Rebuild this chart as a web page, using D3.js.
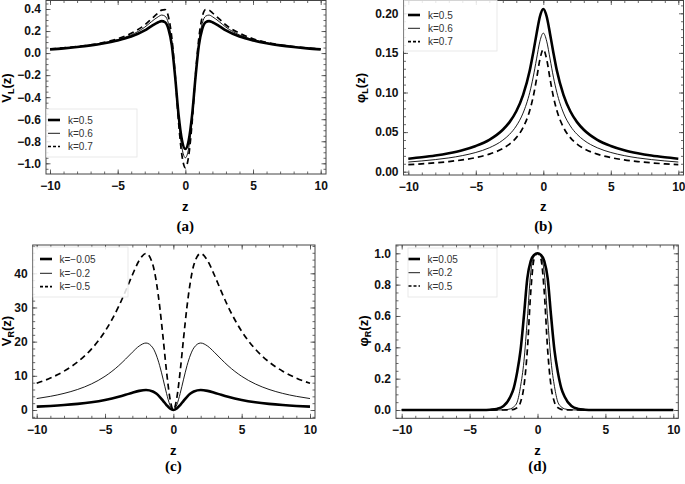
<!DOCTYPE html>
<html><head><meta charset="utf-8">
<script src="https://cdn.jsdelivr.net/npm/d3@7"></script>
<style>
html,body{margin:0;padding:0;background:#fff;}
svg{display:block;}
</style></head>
<body>
<svg id="chart" width="685" height="484"></svg>
<script>
// ---------------- data ----------------
const Z_A = [-10,-9,-8,-7,-6,-5,-4,-3,-2.5,-2,-1.75,-1.5,-1.25,-1,-0.75,-0.5,-0.25,0,0.25,0.5,0.75,1,1.25,1.5,1.75,2,2.5,3,4,5,6,7,8,9,10];
const VL_K05 = [0.034,0.043,0.055,0.07,0.09,0.115,0.15,0.205,0.245,0.28,0.29,0.28,0.22,0.07,-0.22,-0.56,-0.79,-0.87,-0.79,-0.56,-0.22,0.07,0.22,0.28,0.29,0.28,0.245,0.205,0.15,0.115,0.09,0.07,0.055,0.043,0.034];
const VL_K06 = [0.036,0.045,0.057,0.072,0.093,0.122,0.165,0.235,0.285,0.33,0.345,0.335,0.27,0.10,-0.22,-0.60,-0.86,-0.95,-0.86,-0.60,-0.22,0.10,0.27,0.335,0.345,0.33,0.285,0.235,0.165,0.122,0.093,0.072,0.057,0.045,0.036];
const VL_K07 = [0.038,0.047,0.059,0.075,0.097,0.13,0.18,0.255,0.31,0.365,0.39,0.395,0.33,0.14,-0.2,-0.63,-0.93,-1.04,-0.93,-0.63,-0.2,0.14,0.33,0.395,0.39,0.365,0.31,0.255,0.18,0.13,0.097,0.075,0.059,0.047,0.038];

const Z_B = [-10,-9,-8,-7,-6,-5,-4,-3,-2.5,-2,-1.5,-1,-0.75,-0.5,-0.25,0,0.25,0.5,0.75,1,1.5,2,2.5,3,4,5,6,7,8,9,10];
const PL_K05 = [0.0164,0.0182,0.0204,0.0233,0.0271,0.0325,0.0403,0.053,0.0626,0.0763,0.0967,0.128,0.150,0.174,0.196,0.2055,0.196,0.174,0.150,0.128,0.0967,0.0763,0.0626,0.053,0.0403,0.0325,0.0271,0.0233,0.0204,0.0182,0.0164];
const PL_K06 = [0.0122,0.0136,0.0153,0.0174,0.0203,0.0243,0.0302,0.0398,0.0472,0.0578,0.074,0.1003,0.1194,0.1424,0.1648,0.175,0.1648,0.1424,0.1194,0.1003,0.074,0.0578,0.0472,0.0398,0.0302,0.0243,0.0203,0.0174,0.0153,0.0136,0.0122];
const PL_K07 = [0.0089,0.0099,0.0112,0.0128,0.0149,0.0178,0.0222,0.0293,0.0349,0.043,0.0557,0.0775,0.0945,0.117,0.1419,0.1545,0.1419,0.117,0.0945,0.0775,0.0557,0.043,0.0349,0.0293,0.0222,0.0178,0.0149,0.0128,0.0112,0.0099,0.0089];

const Z_C = [-10,-9,-8,-7,-6,-5,-4,-3.5,-3,-2.5,-2,-1.5,-1.25,-1,-0.75,-0.5,-0.25,0,0.25,0.5,0.75,1,1.25,1.5,2,2.5,3,3.5,4,5,6,7,8,9,10];
const VR_K005 = [1.0,1.19,1.45,1.8,2.27,2.94,3.87,4.44,5.05,5.59,5.85,5.42,4.8,3.87,2.69,1.45,0.44,0,0.44,1.45,2.69,3.87,4.8,5.42,5.85,5.59,5.05,4.44,3.87,2.94,2.27,1.8,1.45,1.19,1.0];
const VR_K02 = [3.35,4.0,4.86,6.02,7.62,9.86,12.97,14.88,16.9,18.72,19.6,18.18,16.09,12.97,9.02,4.86,1.47,0,1.47,4.86,9.02,12.97,16.09,18.18,19.6,18.72,16.9,14.88,12.97,9.86,7.62,6.02,4.86,4.0,3.35];
const VR_K05 = [7.82,9.34,11.36,14.07,17.8,23.04,30.31,34.76,39.5,43.75,45.8,42.47,37.6,30.31,21.09,11.36,3.43,0,3.43,11.36,21.09,30.31,37.6,42.47,45.8,43.75,39.5,34.76,30.31,23.04,17.8,14.07,11.36,9.34,7.82];

const Z_D = [-10,-8,-6,-4,-3.5,-3,-2.5,-2,-1.75,-1.5,-1.25,-1,-0.75,-0.5,-0.25,0,0.25,0.5,0.75,1,1.25,1.5,1.75,2,2.5,3,3.5,4,6,8,10];
const PR_K005 = [0,0,0,0,0.002,0.007,0.025,0.085,0.14,0.24,0.38,0.6,0.84,0.95,0.99,1,0.99,0.95,0.84,0.6,0.38,0.24,0.14,0.085,0.025,0.007,0.002,0,0,0,0];
const PR_K02 = [0,0,0,0,0,0,0.001,0.007,0.02,0.05,0.15,0.31,0.58,0.875,0.98,1,0.98,0.875,0.58,0.31,0.15,0.05,0.02,0.007,0.001,0,0,0,0,0,0];
const PR_K05 = [0,0,0,0,0,0,0,0.001,0.004,0.015,0.05,0.15,0.38,0.75,0.965,1,0.965,0.75,0.38,0.15,0.05,0.015,0.004,0.001,0,0,0,0,0,0,0];

const X_MAJOR = [-10,-5,0,5,10];
const LEG_A = ["k=0.5","k=0.6","k=0.7"];
const LEG_B = ["k=0.5","k=0.6","k=0.7"];
const LEG_C = ["k=\u22120.05","k=\u22120.2","k=\u22120.5"];
const LEG_D = ["k=0.05","k=0.2","k=0.5"];
const Y_TICKS_A = [-1.0,-0.8,-0.6,-0.4,-0.2,0.0,0.2,0.4];
const Y_TICKS_B = [0.00,0.05,0.10,0.15,0.20];
const Y_TICKS_C = [0,10,20,30,40];
const Y_TICKS_D = [0.0,0.2,0.4,0.6,0.8,1.0];

// ---------------- drawing ----------------
const svg = d3.select("#chart");
const STYLES = [
  {w:2.6, dash:null},
  {w:0.9, dash:null},
  {w:1.7, dash:"6,4"}
];

function panel(cfg){
  const g = svg.append("g");
  const x = d3.scaleLinear().domain([-10,10]).range(cfg.xr);
  const y = d3.scaleLinear().domain(cfg.yd).range(cfg.yr);
  const [fx0,fy0,fx1,fy1] = cfg.frame;
  const minorX = d3.range(-10,10.001,1);
  const minorY = d3.range(cfg.minor[0], cfg.minor[1]+1e-9, cfg.minor[2]);

  const cid = "clip"+cfg.id;
  svg.append("clipPath").attr("id",cid).append("rect")
    .attr("x",fx0).attr("y",fy0).attr("width",fx1-fx0).attr("height",fy1-fy0);

  const tickStyle = sel => { sel.select(".domain").remove(); sel.selectAll("line").attr("stroke","#444").attr("stroke-width",0.8); };
  const fmtNone = () => "";

  g.append("g").attr("transform",`translate(0,${fy1})`).call(d3.axisBottom(x).tickValues(minorX).tickSize(-2.5).tickFormat(fmtNone)).call(tickStyle);
  g.append("g").attr("transform",`translate(0,${fy0})`).call(d3.axisTop(x).tickValues(minorX).tickSize(-2.5).tickFormat(fmtNone)).call(tickStyle);
  g.append("g").attr("transform",`translate(${fx0},0)`).call(d3.axisLeft(y).tickValues(minorY).tickSize(-2.5).tickFormat(fmtNone)).call(tickStyle);
  g.append("g").attr("transform",`translate(${fx1},0)`).call(d3.axisRight(y).tickValues(minorY).tickSize(-2.5).tickFormat(fmtNone)).call(tickStyle);
  g.append("g").attr("transform",`translate(0,${fy0})`).call(d3.axisTop(x).tickValues(X_MAJOR).tickSize(-4.5).tickFormat(fmtNone)).call(tickStyle);
  g.append("g").attr("transform",`translate(${fx1},0)`).call(d3.axisRight(y).tickValues(cfg.yticks).tickSize(-4.5).tickFormat(fmtNone)).call(tickStyle);
  const xa = g.append("g").attr("transform",`translate(0,${fy1})`)
    .call(d3.axisBottom(x).tickValues(X_MAJOR).tickSize(-4.5).tickPadding(7.5).tickFormat(d3.format("d")));
  tickStyle(xa);
  xa.selectAll("text").attr("font-family","'Liberation Sans',Arial,sans-serif").attr("font-size",12).attr("font-weight","bold").attr("fill","#111");
  const ya = g.append("g").attr("transform",`translate(${fx0},0)`)
    .call(d3.axisLeft(y).tickValues(cfg.yticks).tickSize(-4.5).tickPadding(5).tickFormat(cfg.fmt));
  tickStyle(ya);
  ya.selectAll("text").attr("font-family","'Liberation Sans',Arial,sans-serif").attr("font-size",12).attr("font-weight","bold").attr("fill","#111");

  g.append("rect").attr("x",fx0).attr("y",fy0).attr("width",fx1-fx0).attr("height",fy1-fy0)
    .attr("fill","none").attr("stroke","#444").attr("stroke-width",1);

  const line = d3.line().x(d=>x(d[0])).y(d=>y(d[1])).curve(d3.curveMonotoneX);
  const lg = g.append("g").attr("clip-path",`url(#${cid})`);
  cfg.series.forEach((s,i)=>{
    const pts = cfg.z.map((z,j)=>[z,s[j]]);
    lg.append("path").datum(pts).attr("d",line)
      .attr("fill","none").attr("stroke","#000")
      .attr("stroke-width",STYLES[i].w)
      .attr("stroke-dasharray",STYLES[i].dash)
      .attr("stroke-linejoin","round");
  });

  const L = cfg.legend;
  const lgd = g.append("g");
  lgd.append("rect").attr("x",L.box[0]).attr("y",L.box[1]).attr("width",L.box[2]-L.box[0]).attr("height",L.box[3]-L.box[1])
    .attr("fill","#fff").attr("fill-opacity",0.85).attr("stroke","#e4e4e4").attr("stroke-width",0.8);
  cfg.labels.forEach((t,i)=>{
    const yy = L.ys[i];
    lgd.append("line").attr("x1",L.lx[0]).attr("x2",L.lx[1]).attr("y1",yy).attr("y2",yy)
      .attr("stroke","#000").attr("stroke-width",STYLES[i].w).attr("stroke-dasharray",i===2?"3,2":null);
    lgd.append("text").attr("x",L.tx).attr("y",yy).attr("dy","0.35em")
      .attr("font-family","'Liberation Sans',Arial,sans-serif").attr("font-size",10).attr("fill","#333").text(t);
  });

  g.append("text").attr("x",(cfg.xr[0]+cfg.xr[1])/2).attr("y",cfg.zy).attr("text-anchor","middle")
    .attr("font-family","'Liberation Sans',Arial,sans-serif").attr("font-size",13).attr("font-weight","bold").text("z");
  const yt = g.append("text").attr("transform",`translate(${cfg.yt[0]},${cfg.yt[1]}) rotate(-90)`).attr("text-anchor","middle")
    .attr("font-family","'Liberation Sans',Arial,sans-serif").attr("font-size",13).attr("font-weight","bold");
  yt.append("tspan").text(cfg.ysym);
  yt.append("tspan").attr("font-size",9).attr("dy",3).text(cfg.ysub);
  yt.append("tspan").attr("dy",-3).text("(z)");
  g.append("text").attr("x",(cfg.xr[0]+cfg.xr[1])/2).attr("y",cfg.capy).attr("text-anchor","middle")
    .attr("font-family","'Liberation Serif','Times New Roman',serif").attr("font-size",15).attr("font-weight","bold").text(cfg.cap);
}

panel({id:"a", xr:[50,320.7], yd:[0.4,-1.0], yr:[9,163.3], frame:[46,0.5,326,174],
  yticks:Y_TICKS_A, minor:[-1.05,0.45,0.05], fmt:d3.format(".1f"),
  z:Z_A, series:[VL_K05,VL_K06,VL_K07], labels:LEG_A,
  legend:{box:[46.5,109,137,157], ys:[120,133.3,146.5], lx:[48,60], tx:68},
  zy:211, yt:[11,88], ysym:"V", ysub:"L", cap:"(a)", capy:231});

panel({id:"b", xr:[408.3,678.3], yd:[0.2,0.0], yr:[13.3,171.7], frame:[403.5,0.5,683.5,175],
  yticks:Y_TICKS_B, minor:[0,0.21,0.01], fmt:d3.format(".2f"),
  z:Z_B, series:[PL_K05,PL_K06,PL_K07], labels:LEG_B,
  legend:{box:[404,0.5,497,51], ys:[15,28.3,41.7], lx:[408,420], tx:428},
  zy:211, yt:[365,88], ysym:"\u03C6", ysub:"L", cap:"(b)", capy:231});

panel({id:"c", xr:[36.7,310], yd:[40,0], yr:[273.3,410], frame:[32.7,245,315,418.3],
  yticks:Y_TICKS_C, minor:[-2,48,2], fmt:d3.format("d"),
  z:Z_C, series:[VR_K005,VR_K02,VR_K05], labels:LEG_C,
  legend:{box:[33.2,247,128,297], ys:[259,273.3,286.7], lx:[40,52], tx:59.5},
  zy:455, yt:[11,331], ysym:"V", ysub:"R", cap:"(c)", capy:471});

panel({id:"d", xr:[401.7,673.3], yd:[1.0,0.0], yr:[253.3,410], frame:[396,245,678.3,418.3],
  yticks:Y_TICKS_D, minor:[-0.05,1.05,0.05], fmt:d3.format(".1f"),
  z:Z_D, series:[PR_K005,PR_K02,PR_K05], labels:LEG_D,
  legend:{box:[408,248,497,297], ys:[259,272.7,286], lx:[408.5,420], tx:427.5},
  zy:455, yt:[368,331], ysym:"\u03C6", ysub:"R", cap:"(d)", capy:471});
</script>
</body></html>
